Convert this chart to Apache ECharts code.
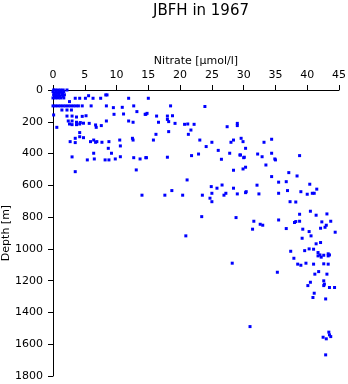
<!DOCTYPE html>
<html>
<head>
<meta charset="utf-8">
<script src="https://cdn.jsdelivr.net/npm/echarts@6/dist/echarts.min.js"></script>
<style>html,body{margin:0;padding:0;background:#fff}#c{width:348px;height:384px}</style>
</head>
<body>
<div id="c"></div>
<script>
var titleText = 'JBFH in 1967';
var xName = 'Nitrate [\u00b5mol/l]';
var yName = 'Depth [m]';
var xTicks = [0, 5, 10, 15, 20, 25, 30, 35, 40, 45];
var yTicks = [0, 200, 400, 600, 800, 1000, 1200, 1400, 1600, 1800];

// surface block
var surfNitrate = [0.1,0.4,0.8,1.2,1.6,2.2, 0.0,0.5,0.9,1.3,1.7, 0.2,0.6,1.0,1.5, 0.1,0.5,0.9,1.4,1.8, 0.3,0.7,1.1,1.6, 0.0,0.4,0.8,1.2,1.7];
var surfDepth   = [0,0,0,0,0,0, 10,10,10,10,10, 20,20,20,20, 30,30,30,30,30, 40,40,40,40, 50,50,50,50,50];

// row near 100 m
var rowNitrate = [0.0,0.4,0.8,1.2,1.6,2.0,2.4,2.8,3.2,3.6,4.0,4.6];
var rowDepth   = [100,100,100,100,100,100,100,100,100,100,100,100];

var nitrate = [2.6,3.5,4.2,5.1,5.6,6.3,7.5,8.3,8.5,11.9,
6.0,8.4,9.5,10.9,12.7,13.2,14.6,
0.1,1.4,2.2,2.9,
2.2,3.0,3.7,4.6,5.2,
9.6,11.1,8.4,11.9,12.6,
2.4,3.0,3.7,4.3,2.6,3.0,3.7,4.2,4.8,
0.6,5.7,6.7,6.8,7.6,
4.2,4.2,3.5,4.8,2.7,3.5,
6.4,6.9,6.7,5.9,7.7,8.8,8.7,10.5,10.6,12.5,12.6,
9.2,6.4,3.0,5.4,6.5,8.2,8.8,9.8,10.6,12.7,13.7,14.6,
3.5,13.1,14.0,
15.0,18.5,23.9,14.8,14.5,16.3,18.0,18.0,18.2,18.8,16.6,19.2,20.7,21.2,22.2,21.7,18.2,21.3,27.4,29.0,29.0,16.2,15.8,23.1,24.1,25.0,26.0,26.5,27.8,28.0,28.4,29.6,29.9,29.4,30.0,14.7,18.0,21.8,22.9,28.4,29.9,
33.2,34.4,30.3,29.5,30.1,32.2,32.9,34.4,34.9,35.0,38.8,33.5,30.3,37.1,
21.1,18.7,17.6,20.4,23.5,24.9,25.8,26.6,28.4,25.0,27.2,26.9,29.0,24.7,25.0,23.4,28.8,20.9,28.2,
34.4,38.4,35.5,36.7,32.1,30.4,30.3,32.4,35.5,36.9,39.0,40.4,41.5,40.0,40.8,41.1,37.3,38.2,38.8,40.5,41.4,43.1,31.6,32.6,33.0,35.5,38.2,38.0,38.8,42.3,43.7,43.0,42.8,42.1,31.4,36.7,39.3,40.3,44.4,40.6,39.2,41.4,42.1,37.4,39.6,40.3,41.0,41.7,42.0,41.7,42.6,43.3,43.5,43.3,37.9,42.2,39.8,41.0,42.6,43.3,38.5,39.0,
35.3,41.8,41.2,43.1,40.5,40.1,42.6,42.7,42.6,43.5,44.3,41.1,40.9,42.9,31.0,43.4,43.5,43.7,42.5,43.0,42.9];

var depth = [73,52,52,52,36,52,52,31,31,52,
100,100,111,109,100,136,153,
157,126,126,126,
164,164,170,166,162,
153,151,195,195,203,
195,195,203,205,214,218,218,214,209,
235,210,220,235,224,
268,294,304,300,325,331,
315,325,329,325,329,325,367,315,352,304,315,
398,398,421,440,434,440,440,434,420,426,434,426,
514,503,662,
52,100,104,147,153,164,164,185,199,162,203,210,216,214,216,252,262,279,231,210,224,279,315,315,356,329,380,436,398,329,315,304,325,409,426,426,423,413,403,505,497,
329,310,367,409,423,403,420,398,434,440,413,472,486,520,
566,633,662,662,662,608,618,598,618,650,650,662,654,681,703,797,803,918,1090,
545,541,580,577,599,640,646,654,650,633,640,593,624,656,650,650,703,705,782,763,788,780,826,845,851,818,828,834,826,830,826,851,864,870,876,872,876,891,895,918,933,968,960,1015,1011,1000,1002,1023,1038,1044,1040,1031,1038,1044,1059,1052,1090,1096,1094,1096,1096,1103,
1147,1143,1159,1159,1210,1231,1201,1222,1231,1243,1243,1279,1306,1315,1489,1524,1541,1552,1556,1566,1667];

var allN = surfNitrate.concat(rowNitrate, nitrate);
var allD = surfDepth.concat(rowDepth, depth);
var points = allN.map(function (n, i) { return [n, allD[i]]; });

var font = 'DejaVu Sans';
var chart = echarts.init(document.getElementById('c'));
chart.setOption({
  animation: false,
  title: {
    text: titleText, left: 196, textAlign: 'center', top: -1,
    textStyle: { fontFamily: font, fontSize: 15, fontWeight: 'normal', color: '#000' }
  },
  grid: { left: 53, right: 9, top: 90, bottom: 8, containLabel: false, outerBoundsMode: 'none' },
  xAxis: {
    type: 'value', position: 'top', min: 0, max: 45, interval: 5,
    name: xName, nameLocation: 'middle', nameGap: 29, nameMoveOverlap: false,
    nameTextStyle: { fontFamily: font, fontSize: 11, color: '#000', align: 'center', verticalAlign: 'middle' },
    axisLine: { show: true, lineStyle: { color: '#000', width: 1 } },
    axisTick: { show: true, length: 5, lineStyle: { color: '#000' } },
    axisLabel: { fontFamily: font, fontSize: 11, color: '#000', margin: 9,
      formatter: function (v) { return xTicks.indexOf(v) >= 0 ? String(v) : ''; } },
    splitLine: { show: false }
  },
  yAxis: {
    type: 'value', inverse: true, min: 0, max: 1800, interval: 200,
    name: yName, nameLocation: 'middle', nameGap: 47, nameMoveOverlap: false,
    nameTextStyle: { fontFamily: font, fontSize: 11, color: '#000', align: 'center', verticalAlign: 'middle', lineHeight: 11 },
    axisLine: { show: true, lineStyle: { color: '#000', width: 1 } },
    axisTick: { show: true, length: 5, lineStyle: { color: '#000' } },
    axisLabel: { fontFamily: font, fontSize: 11, color: '#000', margin: 10,
      formatter: function (v) { return yTicks.indexOf(v) >= 0 ? String(v) : ''; } },
    splitLine: { show: false }
  },
  series: [{
    type: 'scatter', data: points, symbol: 'rect', symbolSize: 3,
    itemStyle: { color: '#0000ff', opacity: 1 }
  }]
});
</script>
</body>
</html>
